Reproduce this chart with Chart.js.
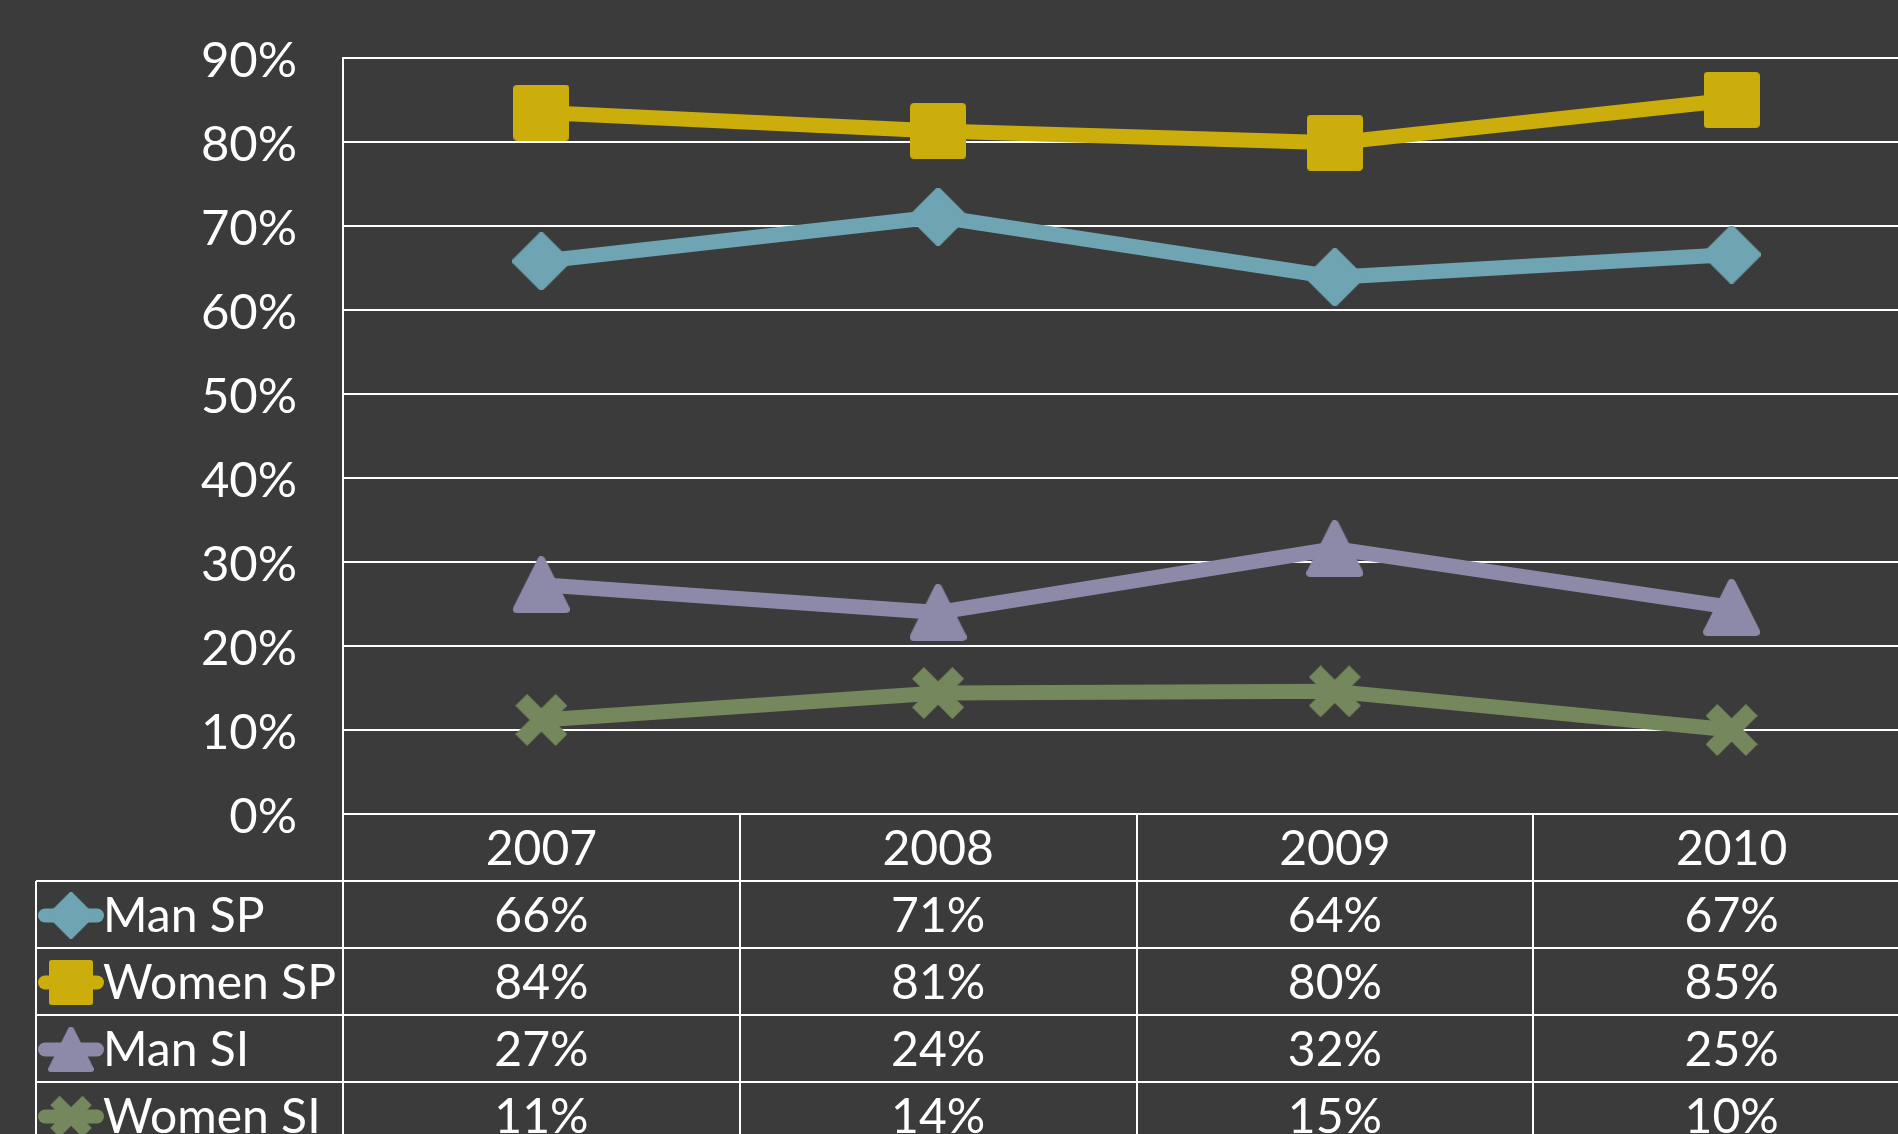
<!DOCTYPE html>
<html><head><meta charset="utf-8">
<script src="https://cdn.jsdelivr.net/npm/chart.js@4/dist/chart.umd.min.js"></script>
<style>
html,body{margin:0;padding:0;background:#3b3b3b;overflow:hidden;width:1898px;height:1134px}
#wrap{position:absolute;left:0;top:0;width:1960px;height:1200px}
canvas{display:block}
</style></head><body>
<div id="wrap"><canvas id="c" width="1960" height="1200" style="width:1960px;height:1200px"></canvas></div>
<script>
// ---- data ----
const years = ['2007', '2008', '2009', '2010'];
const manSP = [65.8, 71.1, 63.9, 66.6];
const womenSP = [83.5, 81.3, 79.9, 85.0];
const manSI = [27.3, 24.0, 31.6, 24.6];
const womenSI = [11.2, 14.4, 14.6, 10.0];
const seriesNames = ['Man SP', 'Women SP', 'Man SI', 'Women SI'];
const yTickValues = [0, 10, 20, 30, 40, 50, 60, 70, 80, 90];

// ---- styles ----
const FONT = 'Lato, "Open Sans", "DejaVu Sans", sans-serif';
const colors = ['#6FA4B3', '#CBAE0B', '#8D89A9', '#74875D'];
const shapes = ['diamond', 'square', 'triangle', 'cross'];
const shapeSizes = [58, 56, 57, 52];

function makeMarker(shape, color, size) {
  const c = document.createElement('canvas');
  c.width = size; c.height = size;
  const g = c.getContext('2d');
  g.fillStyle = color; g.strokeStyle = color;
  g.lineJoin = 'round';
  const lw = 8;
  g.lineWidth = lw;
  const m = size / 2, r = size / 2 - lw / 2;
  g.beginPath();
  if (shape === 'square') {
    g.rect(m - r, m - r, 2 * r, 2 * r);
  } else if (shape === 'diamond') {
    g.moveTo(m, m - r); g.lineTo(m + r, m); g.lineTo(m, m + r); g.lineTo(m - r, m);
  } else if (shape === 'triangle') {
    g.moveTo(m, m - r); g.lineTo(m + r, m + r); g.lineTo(m - r, m + r);
  }
  if (shape === 'cross') {
    const t = size * 0.32;
    const a = size / 2 - t / (2 * Math.SQRT2);
    g.lineCap = 'butt';
    g.lineWidth = t;
    g.beginPath(); g.moveTo(m - a, m - a); g.lineTo(m + a, m + a); g.stroke();
    g.beginPath(); g.moveTo(m + a, m - a); g.lineTo(m - a, m + a); g.stroke();
  } else {
    g.closePath(); g.fill(); g.stroke();
  }
  return c;
}
const markers = shapes.map((s, i) => makeMarker(s, colors[i], shapeSizes[i]));

const seriesData = [manSP, womenSP, manSI, womenSI];

const tablePlugin = {
  id: 'dataTable',
  afterDraw(chart) {
    const {ctx, chartArea, scales} = chart;
    const x = scales.x;
    const top = chartArea.bottom;
    const headerH = 67, rowH = 67;
    const tableLeft = 36;
    const right = chart.width;
    const bottom = chart.height;
    const step = x.getPixelForValue(1) - x.getPixelForValue(0);
    ctx.save();
    ctx.strokeStyle = '#ffffff';
    ctx.lineWidth = 2;
    const line = (x1, y1, x2, y2) => { ctx.beginPath(); ctx.moveTo(x1, y1); ctx.lineTo(x2, y2); ctx.stroke(); };
    for (let i = 0; i <= years.length; i++) {
      const xb = Math.round(x.getPixelForValue(i) - step / 2);
      line(xb, top, xb, bottom);
    }
    line(tableLeft, top + headerH, tableLeft, bottom);
    for (let r = 0; r <= seriesNames.length; r++) {
      const y = top + headerH + r * rowH;
      line(tableLeft, y, right, y);
    }
    ctx.fillStyle = '#ffffff';
    ctx.font = '48px ' + FONT;
    ctx.textBaseline = 'middle';
    ctx.textAlign = 'center';
    years.forEach((yr, i) => {
      ctx.fillText(yr, x.getPixelForValue(i), top + headerH / 2 + 2);
    });
    seriesNames.forEach((name, r) => {
      const cy = top + headerH + r * rowH + rowH / 2 + 1;
      ctx.save();
      ctx.strokeStyle = colors[r];
      ctx.lineWidth = 14;
      ctx.lineCap = 'round';
      line(45, cy, 97, cy);
      const s = shapeSizes[r] * 0.8;
      ctx.drawImage(markers[r], 71 - s / 2, cy - s / 2, s, s);
      ctx.restore();
      ctx.textAlign = 'left';
      ctx.fillText(name, 103, cy + 1);
      ctx.textAlign = 'center';
      seriesData[r].forEach((v, i) => {
        ctx.fillText(Math.round(v) + '%', x.getPixelForValue(i), cy + 1);
      });
    });
    ctx.restore();
  }
};

const datasets = seriesNames.map((name, i) => ({
  label: name,
  data: seriesData[i],
  borderColor: colors[i],
  backgroundColor: colors[i],
  borderWidth: 15,
  borderCapStyle: 'round',
  borderJoinStyle: 'round',
  pointStyle: markers[i],
  pointRadius: 28,
  pointHoverRadius: 28,
  pointBorderWidth: 0,
  tension: 0
}));

new Chart(document.getElementById('c'), {
  type: 'line',
  data: { labels: years, datasets },
  options: {
    responsive: false,
    devicePixelRatio: 1,
    animation: false,
    events: [],
    layout: { autoPadding: false, padding: { left: 0, right: 30, top: 58, bottom: 386 } },
    plugins: { legend: { display: false }, tooltip: { enabled: false }, title: { display: false } },
    scales: {
      x: {
        display: false,
        offset: true,
        afterFit: (axis) => { axis.paddingLeft = 0; axis.paddingRight = 0; axis.paddingTop = 0; axis.paddingBottom = 0; }
      },
      y: {
        min: 0, max: 90,
        afterBuildTicks: (axis) => { axis.ticks = yTickValues.map(v => ({ value: v })); },
        afterFit: (axis) => {
          axis.width = 343;
          axis.paddingLeft = 0; axis.paddingRight = 0; axis.paddingTop = 0; axis.paddingBottom = 0;
        },
        grid: { color: '#ffffff', lineWidth: 2, drawTicks: false },
        border: { color: '#ffffff', width: 2 },
        ticks: {
          color: '#ffffff',
          padding: 46,
          labelOffset: 3,
          font: { size: 49, family: FONT },
          callback: (v) => v + '%'
        }
      }
    }
  },
  plugins: [tablePlugin]
});
</script>
</body></html>
